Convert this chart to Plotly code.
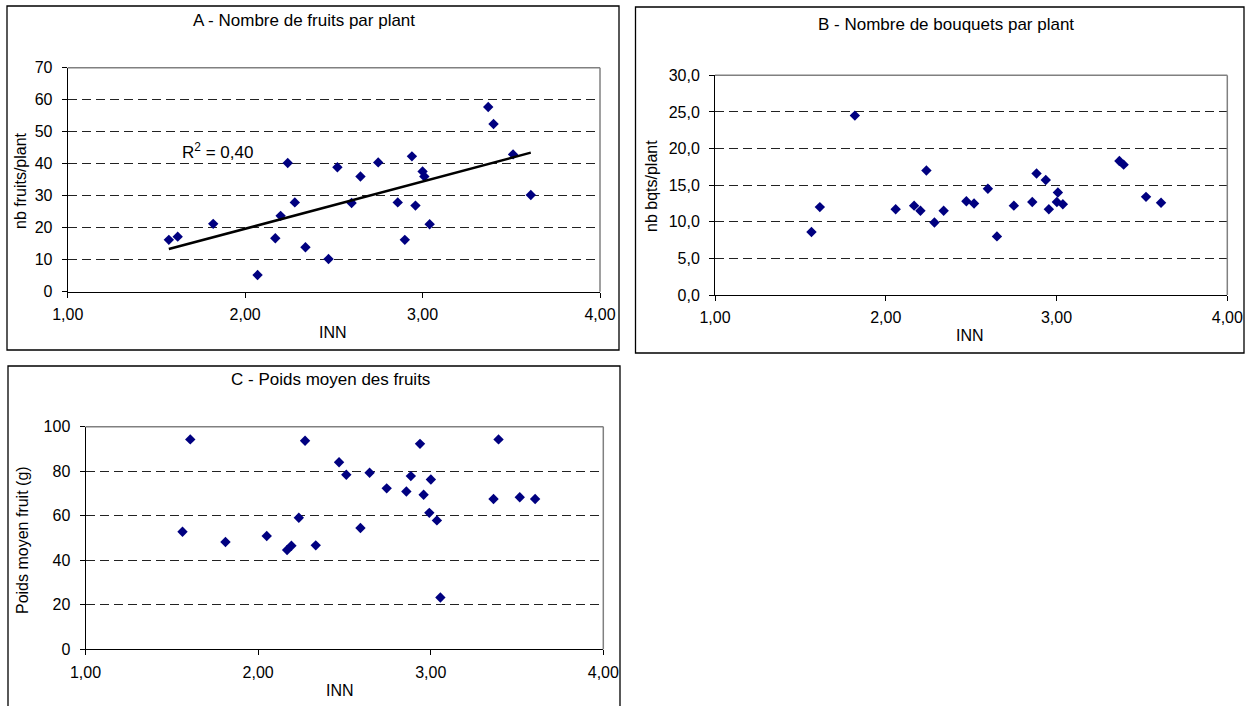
import numpy as np
import plotly.graph_objects as go

W, H = 1252, 706

# A - nombre de fruits par plant
inn_a = [1.57, 1.62, 1.82, 2.07, 2.17, 2.20, 2.24, 2.28, 2.34, 2.47, 2.52, 2.60, 2.65,
         2.75, 2.86, 2.90, 2.94, 2.96, 3.00, 3.01, 3.04, 3.37, 3.40, 3.51, 3.61]
fruits = [16.2, 17.2, 21.2, 5.2, 16.7, 23.7, 40.2, 27.9, 13.9, 10.2, 38.9, 27.7, 36.0,
          40.4, 27.9, 16.2, 42.3, 26.9, 37.6, 36.0, 21.1, 57.7, 52.4, 42.9, 30.2]

# B - nombre de bouquets par plant
inn_b = [1.565, 1.614, 1.819, 2.058, 2.166, 2.203, 2.238, 2.285, 2.339, 2.472, 2.517, 2.598, 2.651,
         2.750, 2.858, 2.883, 2.937, 2.955, 3.002, 3.008, 3.037, 3.368, 3.393, 3.524, 3.612]
bouquets = [8.6, 12.0, 24.5, 11.7, 12.2, 11.5, 17.0, 9.9, 11.5, 12.8, 12.5, 14.5, 8.0,
            12.2, 12.7, 16.6, 15.7, 11.7, 12.7, 14.0, 12.4, 18.3, 17.8, 13.4, 12.6]

# C - poids moyen des fruits
inn_c = [1.562, 1.607, 1.811, 2.050, 2.168, 2.193, 2.236, 2.272, 2.334, 2.469, 2.511, 2.593, 2.646,
         2.745, 2.859, 2.885, 2.938, 2.959, 2.992, 3.001, 3.036, 3.056, 3.364, 3.393, 3.516, 3.605]
poids = [52.8, 94.3, 48.2, 50.9, 44.6, 46.5, 59.1, 93.7, 46.7, 84.0, 78.4, 54.5, 79.3,
         72.3, 70.9, 77.8, 92.3, 69.4, 61.3, 76.3, 57.9, 23.3, 67.5, 94.3, 68.3, 67.5]

x_ticks = [1, 2, 3, 4]
r2_label = "R<sup>2</sup> = 0,40"

FONT = "Liberation Sans, Arial, sans-serif"
NAVY = "#000080"


def px(x):
    return x / W


def py(y):
    return 1 - y / H


fig = go.Figure()

marker = dict(symbol="diamond", size=8, color=NAVY)
fig.add_trace(go.Scatter(x=inn_a, y=fruits, mode="markers", marker=marker, xaxis="x", yaxis="y"))
fig.add_trace(go.Scatter(x=inn_b, y=bouquets, mode="markers", marker=marker, xaxis="x2", yaxis="y2"))
fig.add_trace(go.Scatter(x=inn_c, y=poids, mode="markers", marker=marker, xaxis="x3", yaxis="y3"))

# linear trend for panel A
slope, intercept = np.polyfit(inn_a, fruits, 1)
x_fit = [min(inn_a), max(inn_a)]
fig.add_trace(go.Scatter(
    x=x_fit, y=[slope * v + intercept for v in x_fit], mode="lines",
    line=dict(color="black", width=2.5), xaxis="x", yaxis="y",
))

xax = dict(
    range=[1, 4], tickvals=x_ticks, tickformat=".2f", showgrid=False, zeroline=False,
    showline=True, linecolor="black", linewidth=1, ticks="outside", ticklen=5,
    tickcolor="black", tickfont=dict(size=16, color="black"), automargin=False,
    ticklabelstandoff=3,
)
yax = dict(
    showgrid=True, gridcolor="#222222", griddash="9px,5px", gridwidth=1, zeroline=False,
    showline=True, linecolor="black", linewidth=1, ticks="outside", ticklen=5,
    tickcolor="black", tickfont=dict(size=16, color="black"), automargin=False,
    ticklabelstandoff=6,
)

fig.update_layout(
    xaxis=dict(xax, domain=[px(67.7), px(600)], anchor="y"),
    yaxis=dict(yax, domain=[py(291.7), py(67.7)], range=[0, 70], dtick=10, anchor="x"),
    xaxis2=dict(xax, domain=[px(715), px(1227.3)], anchor="y2"),
    yaxis2=dict(yax, domain=[py(295), py(75.3)], range=[0, 30], dtick=5, tickformat=".1f", anchor="x2"),
    xaxis3=dict(xax, domain=[px(85.5), px(603.3)], anchor="y3"),
    yaxis3=dict(yax, domain=[py(649.3), py(426.7)], range=[0, 100], dtick=20, anchor="x3"),
)

shapes = []
# outer boxes
for x0, y0, x1, y1 in [(7, 6, 619, 350), (635.5, 7, 1244, 353), (8, 366, 620, 712)]:
    shapes.append(dict(type="rect", xref="paper", yref="paper",
                       x0=px(x0), x1=px(x1), y0=py(y1), y1=py(y0),
                       line=dict(color="black", width=1.3)))
# grey top/right frame of each plot area
for s in ["", "2", "3"]:
    xr, yr = f"x{s} domain", f"y{s} domain"
    shapes.append(dict(type="line", xref=xr, yref=yr, x0=0, x1=1, y0=1, y1=1,
                       line=dict(color="#808080", width=1.5)))
    shapes.append(dict(type="line", xref=xr, yref=yr, x0=1, x1=1, y0=0, y1=1,
                       line=dict(color="#808080", width=1.5)))

annotations = []


def label(text, x, y, size=16, angle=0):
    annotations.append(dict(text=text, xref="paper", yref="paper", x=px(x), y=py(y),
                            xanchor="center", yanchor="middle", showarrow=False,
                            textangle=angle, font=dict(size=size, color="black")))


label("A - Nombre de fruits par plant", 304, 20, 17)
label("B - Nombre de bouquets par plant", 946, 24, 17)
label("C - Poids moyen des fruits", 330, 379, 17)
label("INN", 333, 332)
label("INN", 970, 335)
label("INN", 340, 690)
label("nb fruits/plant", 21, 181, 16, -90)
label("nb bqts/plant", 651, 186, 16, -90)
label("Poids moyen fruit (g)", 22, 540, 16, -90)

annotations.append(dict(text=r2_label, xref="x", yref="y", x=1.845, y=44,
                        showarrow=False, xanchor="center", yanchor="middle",
                        font=dict(size=17, color="black")))

fig.update_layout(
    width=W, height=H, margin=dict(l=0, r=0, t=0, b=0, autoexpand=False),
    paper_bgcolor="white", plot_bgcolor="white", showlegend=False,
    separators=", ", font=dict(family=FONT, color="black"),
    shapes=shapes, annotations=annotations,
)

fig.write_html("out.html", config={"displayModeBar": False},
               post_script="document.body.style.margin = '0';")
